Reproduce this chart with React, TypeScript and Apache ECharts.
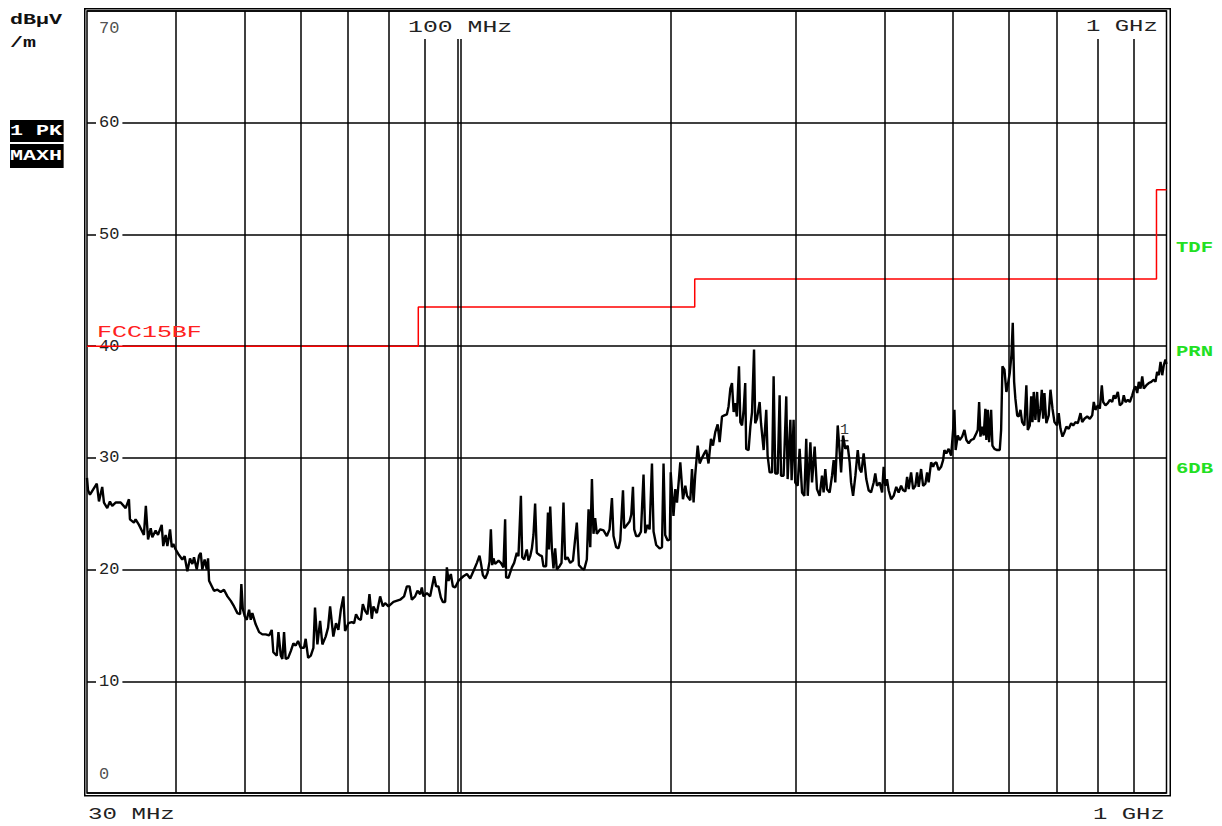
import React, { useEffect, useRef } from "react";
import * as echarts from "echarts";

// Measured trace (peak, max hold): frequency in MHz, level in dBµV/m
const traceFreq = [
  30.0, 30.1, 30.29, 30.69, 30.97, 31.19, 31.52, 31.7, 32.04, 32.32, 32.56, 32.92, 33.47, 34.01, 34.38, 34.49,
  34.94, 35.13, 35.52, 36.09, 36.32, 36.58, 36.9, 37.09, 37.49, 37.78, 38.24, 38.43, 38.73, 38.95, 39.29, 39.51,
  39.71, 40.01, 40.45, 40.88, 41.19, 41.56, 41.92, 42.24, 42.47, 42.85, 43.17, 43.41, 43.63, 43.96, 44.27, 44.45,
  44.6, 45.32, 45.82, 46.32, 46.81, 47.34, 47.86, 48.37, 48.9, 49.33, 49.53, 49.76, 50.09, 50.41, 50.79, 51.07,
  51.33, 51.89, 52.47, 53.03, 53.61, 54.2, 54.67, 54.95, 55.57, 55.87, 56.3, 56.59, 56.9, 57.2, 57.66, 58.16,
  58.65, 59.1, 59.55, 60.07, 60.71, 61.04, 61.53, 62.07, 62.59, 62.92, 63.41, 63.97, 64.44, 65.14, 65.65, 66.08,
  66.78, 67.36, 67.88, 68.42, 69.0, 69.37, 70.14, 70.91, 71.43, 71.89, 72.46, 73.02, 73.49, 74.04, 74.6, 75.09,
  75.67, 76.06, 76.91, 77.74, 78.43, 79.01, 79.87, 81.18, 82.96, 84.03, 84.8, 85.52, 86.18, 87.09, 87.77, 88.53,
  89.02, 89.48, 90.49, 91.46, 91.97, 92.65, 93.23, 93.94, 94.69, 95.31, 96.02, 96.56, 97.08, 97.82, 98.46, 99.19,
  100.28, 101.05, 101.9, 103.05, 104.16, 105.5, 106.45, 107.36, 107.84, 108.54, 109.35, 110.19, 110.91, 111.4, 111.87, 112.34,
  112.94, 114.21, 115.08, 116.05, 116.68, 117.05, 117.94, 119.27, 120.15, 121.18, 121.84, 122.81, 123.33, 124.12, 125.18, 125.86,
  126.58, 127.28, 127.93, 128.62, 129.32, 130.47, 131.48, 132.15, 133.29, 134.09, 134.52, 135.08, 135.83, 136.52, 137.26, 138.01,
  139.24, 140.13, 141.03, 141.79, 142.9, 144.15, 145.43, 147.27, 148.29, 149.74, 150.84, 152.14, 153.0, 153.84, 154.68, 155.47,
  156.31, 157.16, 158.92, 160.62, 162.36, 163.8, 165.07, 165.91, 167.34, 168.63, 169.6, 171.1, 171.79, 173.27, 174.8, 175.76,
  176.73, 177.46, 178.58, 179.96, 181.39, 182.91, 183.9, 185.35, 186.55, 187.99, 188.96, 190.59, 192.7, 194.2, 195.19, 196.24,
  197.79, 199.2, 199.8, 201.6, 202.8, 203.9, 206.1, 207.9, 209.5, 210.7, 212.9, 214.1, 215.2, 216.3, 218.1, 219.5,
  221.2, 222.8, 224.2, 225.9, 227.7, 229.2, 230.9, 232.7, 234.2, 236.0, 237.8, 239.8, 241.1, 242.5, 243.8, 245.1,
  246.4, 247.7, 249.4, 250.5, 251.9, 253.2, 254.5, 255.3, 257.3, 258.8, 260.2, 261.9, 262.9, 264.4, 266.7, 267.9,
  270.2, 272.5, 273.7, 275.5, 277.7, 279.1, 280.6, 282.8, 284.6, 285.9, 288.3, 290.8, 292.1, 294.7, 295.9, 297.8,
  299.4, 301.8, 303.7, 306.1, 308.4, 310.3, 311.8, 314.5, 316.2, 318.9, 321.3, 324.1, 326.6, 328.3, 330.1, 331.9,
  334.8, 337.4, 339.2, 341.0, 343.7, 345.9, 347.5, 349.7, 352.3, 355.0, 357.3, 358.9, 361.3, 364.0, 366.8, 369.1,
  371.2, 373.9, 377.1, 380.0, 383.0, 386.3, 388.3, 390.5, 393.9, 397.0, 399.0, 401.2, 403.4, 405.5, 408.8, 412.2,
  415.7, 418.9, 422.3, 425.0, 428.2, 430.6, 432.8, 436.2, 439.1, 442.3, 444.8, 447.1, 450.6, 453.6, 457.0, 459.5,
  461.8, 465.5, 468.6, 470.5, 473.5, 477.1, 480.9, 484.0, 486.0, 489.1, 492.8, 496.8, 500.0, 502.1, 504.1, 507.6,
  510.9, 514.9, 518.7, 522.0, 525.9, 530.1, 534.6, 539.2, 541.7, 544.1, 546.4, 549.4, 552.2, 555.2, 557.0, 559.6,
  562.1, 565.7, 568.1, 571.8, 576.7, 581.8, 584.4, 586.9, 590.7, 594.4, 597.2, 601.0, 604.3, 606.9, 609.6, 612.1,
  615.7, 618.8, 622.3, 625.7, 630.3, 634.3, 637.3, 641.4, 644.3, 647.0, 649.7, 653.2, 656.8, 660.3, 664.1, 666.9,
  669.9, 672.7, 676.9, 682.1, 686.0, 690.5, 694.9, 700.9, 704.6, 708.7, 713.3, 717.8, 722.4, 727.9, 733.7, 738.5,
  744.0, 749.7, 756.3, 760.4, 766.0, 772.9, 779.5, 785.6, 789.6, 793.8, 800.1, 805.3, 810.5, 814.1, 820.2, 826.5,
  831.9, 838.3, 842.6, 847.1, 853.8, 859.3, 866.0, 870.4, 875.1, 882.0, 887.7, 894.6, 899.2, 904.0, 909.3, 913.9,
  919.1, 924.2, 928.9, 936.9, 944.1, 951.6, 959.6, 964.8, 970.0, 975.3, 980.8, 986.2, 991.3, 996.6, 1000.0,
];

const traceLevel = [
  28.2, 27.1, 26.7, 27.3, 27.7, 26.1, 27.4, 26.0, 25.5, 26.1, 25.7, 26.0, 26.0, 25.5, 26.3, 24.5,
  24.2, 24.5, 24.0, 23.1, 25.7, 22.7, 23.7, 22.9, 23.5, 23.1, 24.0, 22.1, 23.1, 22.1, 23.6, 22.0,
  22.3, 21.8, 21.3, 20.9, 21.2, 19.85, 21.0, 20.5, 21.1, 20.0, 21.25, 21.5, 20.0, 20.9, 20.0, 21.0,
  19.0, 18.1, 18.2, 18.0, 18.2, 17.6, 17.2, 16.7, 16.1, 16.0, 18.7, 16.5, 15.8, 15.5, 16.4, 15.5,
  16.1, 15.1, 14.4, 14.2, 14.2, 14.1, 14.6, 12.6, 12.3, 14.4, 12.3, 12.0, 14.4, 12.0, 12.1, 12.7,
  13.4, 13.2, 13.6, 13.0, 13.0, 13.8, 12.1, 12.3, 13.0, 16.6, 13.3, 15.4, 13.3, 14.0, 14.8, 16.7,
  14.0, 15.2, 14.6, 16.4, 17.6, 14.5, 15.2, 15.3, 15.2, 16.0, 15.6, 15.5, 16.9, 16.3, 16.0, 17.8,
  15.6, 16.7, 16.1, 17.6, 16.7, 17.0, 16.7, 17.1, 17.3, 17.6, 18.5, 18.5, 17.3, 17.6, 18.1, 17.8,
  18.4, 17.6, 17.9, 17.6, 18.4, 19.4, 18.5, 18.5, 17.5, 17.1, 17.1, 20.2, 19.0, 19.6, 18.5, 18.4,
  19.0, 19.2, 19.4, 19.6, 19.2, 20.0, 20.6, 21.25, 20.6, 19.5, 19.2, 19.7, 20.7, 23.6, 20.4, 21.0,
  20.5, 20.8, 20.6, 20.2, 24.5, 19.3, 19.25, 20.2, 20.6, 21.5, 21.2, 26.6, 21.1, 20.9, 21.8, 20.8,
  21.2, 21.9, 23.1, 25.9, 21.5, 21.3, 21.2, 20.3, 20.3, 25.1, 21.8, 25.65, 21.8, 20.1, 21.9, 20.0,
  20.3, 20.6, 26.0, 20.9, 21.1, 20.6, 20.8, 24.2, 20.4, 20.1, 20.0, 20.9, 25.4, 22.0, 28.1, 23.2,
  24.6, 23.2, 23.6, 23.5, 23.0, 23.6, 26.4, 23.0, 22.0, 21.9, 22.6, 27.1, 23.7, 24.0, 24.3, 24.9,
  27.4, 23.6, 23.0, 23.0, 23.4, 28.5, 23.25, 24.0, 23.6, 29.5, 23.4, 22.2, 21.9, 22.0, 29.5, 23.1,
  22.6, 22.7, 28.7, 24.8, 27.2, 26.0, 29.6, 26.3, 27.5, 26.6, 26.2, 29.0, 26.0, 28.4, 31.1, 29.5,
  30.0, 30.4, 30.7, 29.5, 31.7, 31.1, 32.3, 33.0, 31.4, 33.7, 33.8, 33.9, 34.6, 36.2, 36.7, 34.1,
  34.9, 33.7, 38.2, 33.2, 32.9, 34.3, 36.7, 30.8, 30.7, 32.8, 34.1, 39.7, 33.1, 33.5, 35.0, 33.1,
  30.7, 34.3, 30.2, 28.7, 28.7, 37.3, 28.6, 28.6, 35.6, 28.4, 28.4, 35.5, 28.1, 33.4, 28.0, 33.4,
  27.8, 27.5, 30.8, 26.9, 26.6, 31.7, 26.6, 31.4, 27.8, 31.0, 27.2, 26.6, 28.4, 26.9, 29.0, 27.2,
  26.9, 28.4, 29.8, 27.8, 32.9, 30.5, 28.7, 32.0, 30.8, 31.1, 29.6, 27.8, 26.6, 28.4, 30.7, 29.0,
  28.7, 30.4, 28.1, 27.1, 26.9, 27.8, 28.6, 27.5, 27.8, 26.9, 29.2, 27.5, 28.1, 27.1, 26.3, 26.6,
  27.4, 26.9, 27.5, 27.1, 27.0, 28.3, 27.2, 28.7, 27.2, 27.5, 28.7, 27.4, 29.0, 27.5, 27.7, 28.7,
  27.8, 29.6, 29.2, 29.5, 29.6, 28.9, 29.2, 29.8, 30.7, 30.4, 30.8, 30.2, 32.5, 34.3, 30.7, 32.0,
  31.6, 31.9, 32.5, 31.6, 31.3, 31.6, 31.7, 32.2, 32.5, 35.0, 31.9, 32.8, 32.0, 34.4, 31.6, 34.3,
  31.4, 34.3, 31.1, 30.8, 30.7, 30.7, 32.5, 38.2, 37.9, 35.9, 36.5, 37.6, 39.2, 42.1, 36.8, 35.3,
  33.8, 33.7, 34.3, 33.2, 32.9, 36.5, 32.5, 32.9, 35.5, 33.2, 35.9, 33.4, 35.9, 33.2, 34.4, 36.1,
  33.5, 35.8, 33.1, 33.8, 36.1, 34.4, 33.2, 32.9, 34.0, 32.6, 31.9, 32.3, 32.8, 32.6, 33.1, 32.9,
  33.2, 33.1, 34.0, 33.2, 33.5, 33.7, 33.5, 33.8, 35.0, 34.3, 34.7, 34.4, 36.5, 35.0, 34.7, 34.9,
  35.2, 35.0, 35.6, 35.3, 35.9, 34.7, 34.9, 35.6, 35.0, 35.2, 35.0, 35.6, 36.1, 36.4, 35.8, 36.8,
  36.2, 37.3, 36.2, 36.5, 36.7, 36.8, 37.0, 36.8, 37.7, 37.4, 38.6, 37.4, 38.3, 38.8, 38.4,
];

// FCC 15 class B limit line (step breakpoints)
const limitFreq = [30, 88, 88, 216, 216, 968, 968, 1000];
const limitLevel = [40, 40, 43.5, 43.5, 46, 46, 54, 54];

// Frequency grid lines (MHz)
const fullGridFreqs = [40, 50, 60, 70, 80, 200, 300, 400, 500, 600, 700];
const shortGridFreqs = [90, 100, 101, 800, 900];

// Level axis ticks
const levelMin = 0;
const levelMax = 70;
const levelStep = 10;

// Marker 1
const markerFreq = [349];
const markerLevel = [31.0];

const FONT = '"Liberation Mono", "DejaVu Sans Mono", monospace';

function txt(
  text: string,
  x: number,
  y: number,
  o: { size: number; bold?: boolean; fill: string; sx: number; bg?: string; pad?: number[] }
) {
  return {
    type: "text",
    x,
    y,
    scaleX: o.sx,
    z: 20,
    silent: true,
    style: {
      text,
      x: 0,
      y: 0,
      fill: o.fill,
      font: `${o.bold ? "bold " : ""}${o.size}px ${FONT}`,
      align: "left",
      verticalAlign: "middle",
      backgroundColor: o.bg,
      padding: o.pad,
    },
  };
}

export default function App() {
  const ref = useRef<HTMLDivElement>(null);

  useEffect(() => {
    if (!ref.current) return;
    const chart = echarts.init(ref.current, null, { renderer: "svg" });

    const trace = traceFreq.map((f, i) => [f, traceLevel[i]]);
    const limit = limitFreq.map((f, i) => [f, limitLevel[i]]);
    const topShort = levelMax - 2.5;

    const gridLines: any[] = [
      ...fullGridFreqs.map((f) => ({ xAxis: f })),
      ...shortGridFreqs.map((f) => [{ coord: [f, levelMin] }, { coord: [f, topShort] }]),
    ];

    const option: any = {
      animation: false,
      backgroundColor: "#ffffff",
      grid: {
        left: 87,
        right: 55.5,
        top: 11,
        bottom: 33,
        show: true,
        borderColor: "#000",
        borderWidth: 1.5,
        backgroundColor: "transparent",
      },
      xAxis: {
        type: "log",
        logBase: 10,
        min: 30,
        max: 1000,
        axisLine: { show: false },
        axisTick: { show: false },
        axisLabel: { show: false },
        splitLine: { show: false },
      },
      yAxis: {
        type: "value",
        min: levelMin,
        max: levelMax,
        interval: levelStep,
        axisLine: { show: false },
        axisTick: { show: false },
        splitLine: { show: true, lineStyle: { color: "#000", width: 1.5 } },
        axisLabel: {
          inside: true,
          margin: 9,
          formatter: (v: number) => (v === levelMin || v === levelMax ? "" : `{n|${v}}`),
          rich: {
            n: {
              fontFamily: FONT,
              fontSize: 17,
              color: "#222",
              backgroundColor: "#fff",
              padding: [1, 3, 1, 3],
            },
          },
        },
      },
      graphic: [
        {
          type: "rect",
          silent: true,
          z: 0,
          shape: { x: 84.75, y: 8.75, width: 1085.5, height: 787 },
          style: { fill: "none", stroke: "#000", lineWidth: 1.5 },
        },
        txt("dBµV", 10, 20, { size: 14, bold: true, fill: "#111", sx: 1.55 }),
        txt("/m", 10, 43, { size: 14, bold: true, fill: "#111", sx: 1.55 }),
        txt("1 PK", 10, 131, { size: 14, bold: true, fill: "#fff", sx: 1.55, bg: "#000", pad: [4, 1, 4, 0] }),
        txt("MAXH", 10, 156, { size: 14, bold: true, fill: "#fff", sx: 1.55, bg: "#000", pad: [5, 1, 5, 0] }),
        txt("100 MHz", 408, 27, { size: 17, fill: "#222", sx: 1.46 }),
        txt("1 GHz", 1086, 27, { size: 17, fill: "#222", sx: 1.41 }),
        txt("30 MHz", 88, 815, { size: 17, fill: "#222", sx: 1.42 }),
        txt("1 GHz", 1093, 815, { size: 17, fill: "#222", sx: 1.41 }),
        txt("FCC15BF", 97, 333, { size: 16, fill: "#ff2020", sx: 1.56 }),
        txt("TDF", 1176, 248, { size: 14, bold: true, fill: "#22e022", sx: 1.47 }),
        txt("PRN", 1176, 352, { size: 14, bold: true, fill: "#22e022", sx: 1.47 }),
        txt("6DB", 1176, 469, { size: 14, bold: true, fill: "#22e022", sx: 1.47 }),
      ],
      series: [
        {
          name: "freqGrid",
          type: "line",
          z: 1,
          silent: true,
          data: [[30, -10]],
          symbol: "none",
          lineStyle: { opacity: 0 },
          markLine: {
            silent: true,
            symbol: ["none", "none"],
            label: { show: false },
            lineStyle: { color: "#000", width: 1.5, type: "solid" },
            data: gridLines,
          },
        },
        {
          name: "edgeLabels",
          type: "scatter",
          z: 3,
          silent: true,
          symbolSize: 0,
          data: [
            {
              value: [30, levelMax],
              label: { show: true, position: "right", distance: 12, offset: [0, 17], formatter: `${levelMax}` },
            },
            {
              value: [30, levelMin],
              label: { show: true, position: "right", distance: 12, offset: [0, -19], formatter: `${levelMin}` },
            },
          ],
          label: { fontFamily: FONT, fontSize: 17, color: "#222" },
        },
        {
          name: "FCC15BF",
          type: "line",
          z: 4,
          data: limit,
          symbol: "none",
          lineStyle: { color: "#ff0000", width: 1.5 },
        },
        {
          name: "1 PK MAXH",
          type: "line",
          z: 5,
          data: trace,
          symbol: "none",
          lineStyle: { color: "#000", width: 2.4 },
        },
        {
          name: "marker",
          type: "scatter",
          z: 6,
          silent: true,
          data: markerFreq.map((f, i) => [f, markerLevel[i]]),
          symbol: "rect",
          symbolSize: [8, 1.5],
          symbolOffset: [2, -6],
          itemStyle: { color: "#000" },
          label: {
            show: true,
            position: "top",
            distance: 2,
            formatter: "1",
            fontFamily: FONT,
            fontSize: 15,
            color: "#000",
          },
        },
      ],
    };

    chart.setOption(option);
    return () => chart.dispose();
  }, []);

  return (
    <div
      ref={ref}
      style={{ position: "fixed", left: 0, top: 0, width: "1222px", height: "826px", background: "#fff" }}
    />
  );
}
